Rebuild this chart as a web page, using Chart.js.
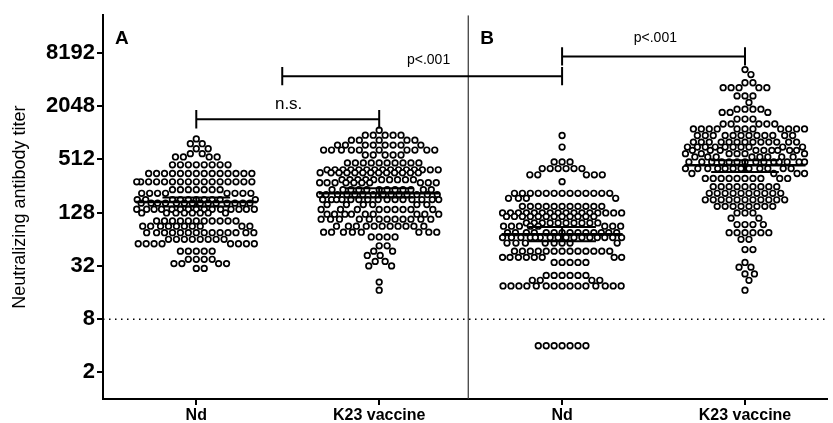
<!DOCTYPE html>
<html>
<head>
<meta charset="utf-8">
<script src="https://cdn.jsdelivr.net/npm/chart.js@4"></script>
<style>
  html, body { margin: 0; background: #fff; }
  #wrap { width: 833px; height: 423px; }
</style>
</head>
<body>
<div id="wrap"><canvas id="titers"></canvas></div>
<script>
const groups = ['Nd', 'K23 vaccine', 'Nd', 'K23 vaccine'];
const yTicks = [2, 8, 32, 128, 512, 2048, 8192];
const lod = 8;

// each dot row: titer level and how many subjects sit on it
const ndA_titers = [874, 771, 676, 595, 546, 445, 355, 286, 233, 212, 180, 164, 140, 127, 103, 90, 76, 64, 57, 47, 38, 34, 30];
const ndA_counts = [1, 2, 2, 2, 4, 8, 14, 16, 7, 8, 10, 14, 15, 8, 11, 10, 14, 8, 8, 5, 4, 4, 2];

const k23A_titers = [1095, 963, 846, 744, 654, 575, 468, 391, 362, 302, 279, 233, 205, 180, 158, 139, 123, 108, 90, 77, 68, 54, 47, 42, 36, 32, 21, 17];
const k23A_counts = [1, 5, 5, 8, 10, 5, 10, 15, 13, 10, 10, 12, 14, 15, 6, 9, 9, 12, 11, 8, 4, 2, 2, 2, 2, 2, 1, 1];

const ndB_titers = [955, 707, 480, 404, 343, 287, 212, 186, 151, 127, 116, 98, 90, 76, 67, 58, 47, 40, 35, 25, 22, 19, 4];
const ndB_counts = [1, 1, 3, 6, 5, 1, 13, 4, 11, 16, 12, 10, 8, 14, 16, 8, 13, 8, 5, 6, 4, 15, 7];

const k23B_titers = [5311, 4672, 3772, 3316, 2678, 2254, 1895, 1742, 1466, 1288, 1132, 955, 804, 707, 649, 595, 546, 480, 404, 355, 312, 252, 212, 179, 151, 127, 111, 94, 76, 64, 49, 35, 31, 26, 22, 17];
const k23B_counts = [1, 1, 2, 5, 3, 1, 4, 3, 3, 5, 11, 12, 13, 10, 9, 6, 8, 14, 12, 4, 10, 9, 10, 11, 8, 3, 2, 4, 6, 2, 2, 1, 2, 2, 1, 1];

// geometric mean with 95% CI
const geoMeans = [169, 212, 73, 440];
const ciLow = [150, 190, 61, 368];
const ciHigh = [190, 241, 88, 502];

// comparison brackets
const bracketFrom = [0, 0.47, 2];
const bracketTo = [1, 2, 3];
const bracketLevel = [1458, 4480, 7490];

const FONT = "'Liberation Sans', Arial, sans-serif";
const X_MIN = -0.51, X_MAX = 3.45, Y_MIN = 1, Y_MAX = 21900;

// rough pixel scale, only used to keep dots from sitting on each other
const PX_X = 184.3, PX_LOG2 = 26.9, DOT = 7.6, HALF = 60;

function swarm(titers, counts, center) {
  const vals = [];
  titers.forEach((t, i) => { for (let k = 0; k < counts[i]; k++) vals.push(t); });
  const placed = [];
  return vals.map(v => {
    const py = Math.log2(v) * PX_LOG2;
    const near = placed.filter(p => Math.abs(p.y - py) < DOT);
    const free = x => near.every(p => Math.hypot(p.x - x, p.y - py) >= DOT);
    let px = null;
    for (let k = 0; k <= HALF && px === null; k += 0.5) {
      if (free(k)) px = k;
      else if (free(-k)) px = -k;
    }
    if (px === null) {
      let bestGap = -1;
      for (let x = -HALF; x <= HALF; x += 0.5) {
        const g = Math.min(...near.map(p => Math.hypot(p.x - x, p.y - py)));
        if (g > bestGap) { bestGap = g; px = x; }
      }
    }
    placed.push({ x: px, y: py });
    return { x: center + px / PX_X, y: v };
  });
}

function seg(x1, y1, x2, y2, width, extra) {
  return Object.assign({
    type: 'scatter', showLine: true, pointRadius: 0,
    borderColor: '#000', borderWidth: width, order: 0,
    data: [{ x: x1, y: y1 }, { x: x2, y: y2 }]
  }, extra || {});
}

const datasets = [];

// mean bars and CI
geoMeans.forEach((m, i) => {
  datasets.push(seg(i - 0.331, m, i + 0.331, m, 2.6));
  datasets.push(seg(i - 0.185, ciLow[i], i + 0.185, ciLow[i], 2));
  datasets.push(seg(i - 0.185, ciHigh[i], i + 0.185, ciHigh[i], 2));
  datasets.push(seg(i, ciLow[i], i, ciHigh[i], 2));
});

// brackets with centred end ticks
bracketLevel.forEach((lvl, i) => {
  const up = lvl * 1.27, dn = lvl / 1.27;
  datasets.push(seg(bracketFrom[i], lvl, bracketTo[i], lvl, 2));
  datasets.push(seg(bracketFrom[i], dn, bracketFrom[i], up, 2));
  datasets.push(seg(bracketTo[i], dn, bracketTo[i], up, 2));
});

// detection limit and panel divider
datasets.push(seg(X_MIN, lod, X_MAX, lod, 1.5, { borderDash: [1.5, 4.5], order: 2 }));
datasets.push(seg(1.487, Y_MIN, 1.487, Y_MAX, 1.2, { borderColor: '#333', order: 2 }));

const swarms = [
  swarm(ndA_titers, ndA_counts, 0),
  swarm(k23A_titers, k23A_counts, 1),
  swarm(ndB_titers, ndB_counts, 2),
  swarm(k23B_titers, k23B_counts, 3)
];
swarms.forEach(pts => {
  datasets.push({
    type: 'scatter', data: pts, order: 1,
    pointRadius: 2.8, pointBorderWidth: 1.7,
    pointBorderColor: '#000', pointBackgroundColor: '#fff'
  });
});

const labels = {
  id: 'labels',
  afterDatasetsDraw(chart) {
    const { ctx, scales: { x, y } } = chart;
    const notes = [
      { t: 'n.s.', x: 0.505, y: 2150, f: '17px ' + FONT },
      { t: 'p<.001', x: 1.27, y: 6830, f: '14px ' + FONT },
      { t: 'p<.001', x: 2.51, y: 12000, f: '14px ' + FONT },
      { t: 'A', x: -0.407, y: 11750, f: 'bold 19px ' + FONT },
      { t: 'B', x: 1.59, y: 11750, f: 'bold 19px ' + FONT }
    ];
    ctx.save();
    ctx.fillStyle = '#000';
    ctx.textAlign = 'center';
    ctx.textBaseline = 'middle';
    notes.forEach(n => {
      ctx.font = n.f;
      ctx.fillText(n.t, x.getPixelForValue(n.x), y.getPixelForValue(n.y));
    });
    ctx.restore();
  }
};

new Chart(document.getElementById('titers'), {
  type: 'scatter',
  data: { datasets },
  plugins: [labels],
  options: {
    animation: false,
    responsive: true,
    maintainAspectRatio: false,
    layout: { padding: { top: 12, right: 0, left: 0, bottom: 0 } },
    plugins: { legend: { display: false }, tooltip: { enabled: false } },
    scales: {
      x: {
        type: 'linear', min: X_MIN, max: X_MAX,
        afterBuildTicks: axis => { axis.ticks = [0, 1, 2, 3].map(v => ({ value: v })); },
        afterFit: axis => { axis.height = 24; },
        ticks: {
          callback: v => groups[v],
          color: '#000', padding: 1,
          font: { family: FONT, size: 16, weight: 'bold' }
        },
        grid: { drawOnChartArea: false, color: '#000', lineWidth: 2, tickLength: 6 },
        border: { color: '#000', width: 2 }
      },
      y: {
        type: 'logarithmic', min: Y_MIN, max: Y_MAX,
        afterBuildTicks: axis => { axis.ticks = yTicks.map(v => ({ value: v })); },
        afterFit: axis => { axis.width = 103; },
        ticks: {
          callback: v => String(v),
          color: '#000', padding: 2,
          font: { family: FONT, size: 22, weight: 'bold' }
        },
        grid: { drawOnChartArea: false, color: '#000', lineWidth: 2, tickLength: 6 },
        border: { color: '#000', width: 2 },
        title: {
          display: true, text: 'Neutralizing antibody titer', color: '#000',
          padding: { top: 9, bottom: 0 },
          font: { family: FONT, size: 18, weight: 'normal' }
        }
      }
    }
  }
});
</script>
</body>
</html>
